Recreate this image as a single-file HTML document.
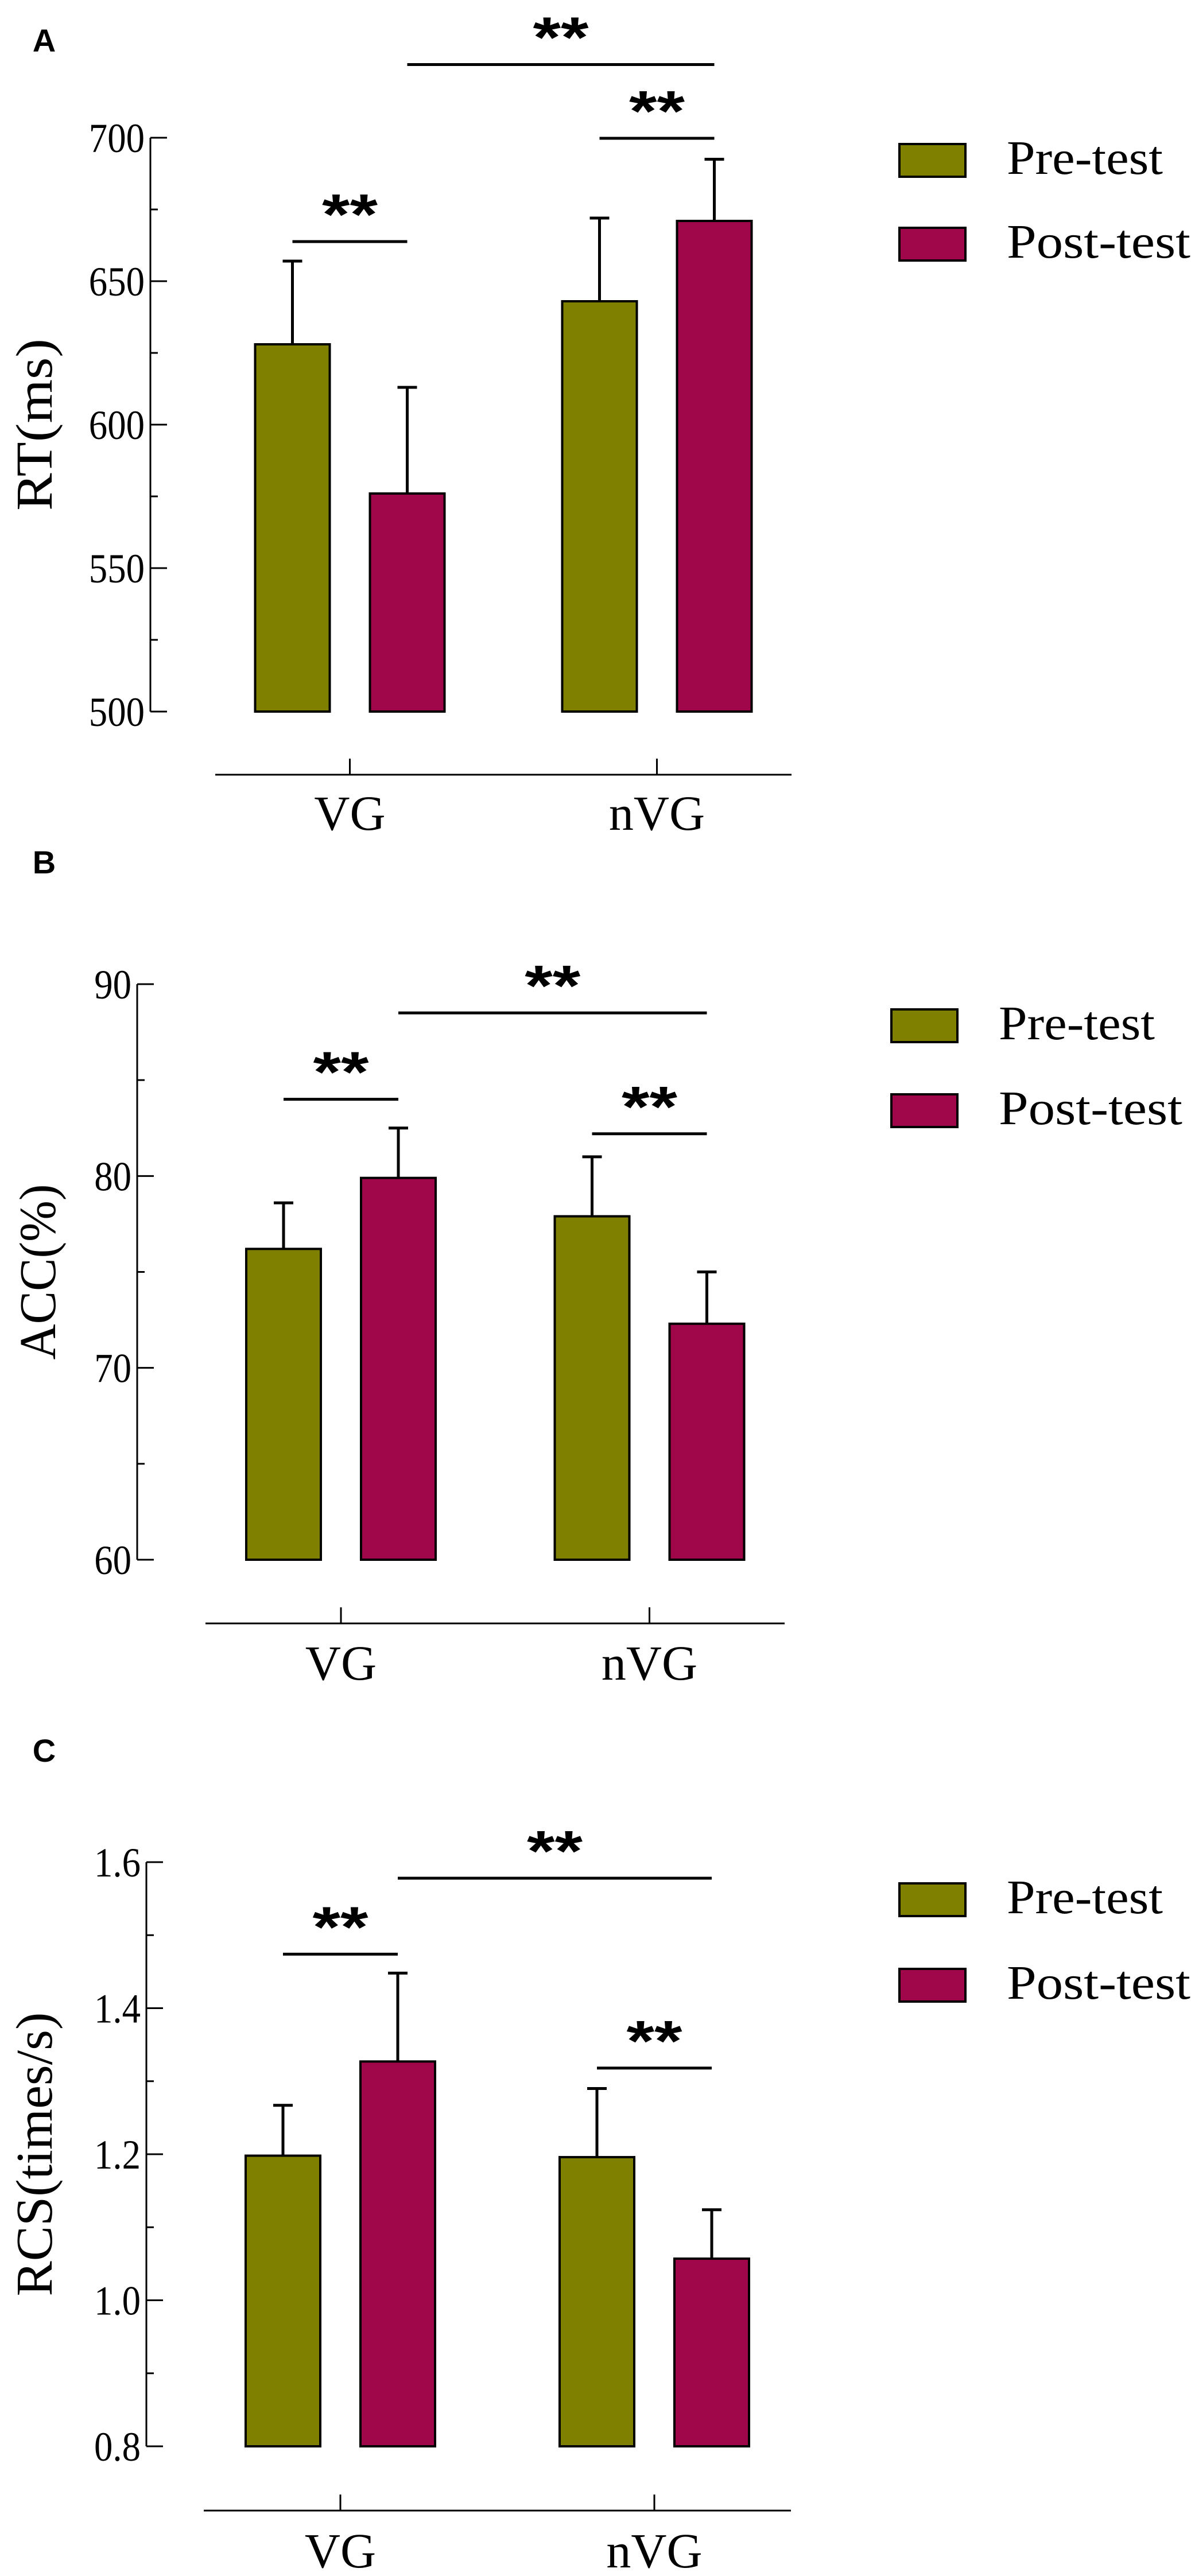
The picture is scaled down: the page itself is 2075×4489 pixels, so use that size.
<!DOCTYPE html>
<html><head><meta charset="utf-8"><style>
html,body{margin:0;padding:0;background:#fff;}
svg{display:block;}
text{font-family:"Liberation Serif",serif;fill:#000;}
.sans{font-family:"Liberation Sans",sans-serif;font-weight:bold;}
</style></head><body>
<svg id="fig" width="2075" height="4489" viewBox="0 0 2075 4489" xmlns="http://www.w3.org/2000/svg"></svg>
<script>
// ---- data ----
const categories = ["VG", "nVG"];
const seriesNames = ["Pre-test", "Post-test"];
const seriesColors = ["#808000", "#A0064A"];

const rtPre = [628, 643];
const rtPost = [576, 671];
const rtPreErr = [29, 29];
const rtPostErr = [37, 21.5];
const rtTicks = [500, 550, 600, 650, 700];
const rtSig = [663.8, 699.8, 725.5];

const accPre = [76.2, 77.9];
const accPost = [79.9, 72.3];
const accPreErr = [2.4, 3.1];
const accPostErr = [2.6, 2.7];
const accTicks = [60, 70, 80, 90];
const accSig = [84.0, 82.2, 88.5];

const rcsPre = [1.198, 1.196];
const rcsPost = [1.327, 1.057];
const rcsPreErr = [0.069, 0.094];
const rcsPostErr = [0.121, 0.067];
const rcsTicks = [0.8, 1.0, 1.2, 1.4, 1.6];
const rcsSig = [1.474, 1.318, 1.578];

const NS = "http://www.w3.org/2000/svg";
const svg = document.getElementById("fig");
function mk(tag, attrs, parent){ const e=document.createElementNS(NS,tag); for(const k in attrs) e.setAttribute(k,attrs[k]); (parent||svg).appendChild(e); return e; }

const panels = [
 {label:"A", labelY:90, title:"RT(ms)", titleX:60, titleLen:300, axisX:262, yTop:240, yBot:1240, min:500, max:700, c0:609.5, c1:1144.5,
  pre:rtPre, post:rtPost, preErr:rtPreErr, postErr:rtPostErr, ticks:rtTicks, fmt:v=>String(v), sig:rtSig,
  xAxisY:1350, xAxisL:375, xAxisR:1379, catY:1446, legX:1567, legY:[251,397]},
 {label:"B", labelY:1522, title:"ACC(%)", titleX:66, titleLen:306, axisX:239, yTop:1715, yBot:2718, min:60, max:90, c0:594, c1:1131.5,
  pre:accPre, post:accPost, preErr:accPreErr, postErr:accPostErr, ticks:accTicks, fmt:v=>String(v), sig:accSig,
  xAxisY:2829, xAxisL:358, xAxisR:1367, catY:2927, legX:1553, legY:[1759,1907]},
 {label:"C", labelY:3070, title:"RCS(times/s)", titleX:60, titleLen:495, axisX:255, yTop:3245, yBot:4263, min:0.8, max:1.6, c0:593, c1:1140,
  pre:rcsPre, post:rcsPost, preErr:rcsPreErr, postErr:rcsPostErr, ticks:rcsTicks, fmt:v=>v.toFixed(1), sig:rcsSig,
  xAxisY:4375, xAxisL:355, xAxisR:1378, catY:4474, legX:1567, legY:[3282,3431]}
];

panels.forEach((p, pi) => {
  const g = mk("g", {});
  
  
  const y = v => p.yBot - (v - p.min) / (p.max - p.min) * (p.yBot - p.yTop);
  const gc = i => i === 0 ? p.c0 : p.c1;
  const bx = (i, s) => gc(i) + (s === 0 ? -100 : 100);

  const lab = mk("text", {x:77, y:p.labelY, "font-size":56, "text-anchor":"middle", class:"sans"}, g);
  lab.textContent = p.label;
  
  

  // y axis
  const ax = mk("line", {x1:p.axisX, y1:p.yTop, x2:p.axisX, y2:p.yBot, stroke:"#000", "stroke-width":3}, g);
  
  
  p.ticks.forEach((t, k) => {
    const ty = y(t);
    const tk = mk("line", {x1:p.axisX, y1:ty, x2:p.axisX + 29, y2:ty, stroke:"#000", "stroke-width":3}, g);
    
    
    const tl = mk("text", {x:p.axisX - 10, y:ty + 25, "font-size":72, "text-anchor":"end", transform:`translate(${(p.axisX-10)*0.1},0) scale(0.9,1)`}, g);
    tl.textContent = p.fmt(t);
    
    
    if (k < p.ticks.length - 1) {
      const my = y((t + p.ticks[k+1]) / 2);
      const mt = mk("line", {x1:p.axisX, y1:my, x2:p.axisX + 13, y2:my, stroke:"#000", "stroke-width":3}, g);
      
      
    }
  });
  const yt = mk("text", {x:0, y:0, "font-size":90, "text-anchor":"middle", textLength:p.titleLen, lengthAdjust:"spacingAndGlyphs",
    transform:`translate(${p.titleX + 30},${(p.yTop + p.yBot)/2}) rotate(-90)`}, g);
  yt.textContent = p.title;
  
  

  // bars
  [p.pre, p.post].forEach((vals, s) => {
    const errs = s === 0 ? p.preErr : p.postErr;
    vals.forEach((v, i) => {
      const cx = bx(i, s);
      const top = y(v), errTop = y(v + errs[i]);
      const wl = mk("line", {x1:cx, y1:top, x2:cx, y2:errTop, stroke:"#000", "stroke-width":5}, g);
      
      
      const wc = mk("line", {x1:cx - 17, y1:errTop, x2:cx + 17, y2:errTop, stroke:"#000", "stroke-width":5}, g);
      
      
      const r = mk("rect", {x:cx - 65, y:top, width:130, height:y(p.min) - top, fill:seriesColors[s], stroke:"#000", "stroke-width":4}, g);
      
      
    });
  });

  // significance brackets
  const brackets = [[bx(0,0), bx(0,1)], [bx(1,0), bx(1,1)], [bx(0,1), bx(1,1)]];
  brackets.forEach((b, k) => {
    const ly = y(p.sig[k]);
    const sl = mk("line", {x1:b[0], y1:ly, x2:b[1], y2:ly, stroke:"#000", "stroke-width":5}, g);
    
    
    const st = mk("text", {x:(b[0] + b[1]) / 2, y:ly - 70 + 57, "font-size":100, "text-anchor":"middle", textLength:97, lengthAdjust:"spacingAndGlyphs", class:"sans"}, g);
    st.textContent = "**";
    
    
  });

  // x axis
  const xa = mk("line", {x1:p.xAxisL, y1:p.xAxisY, x2:p.xAxisR, y2:p.xAxisY, stroke:"#000", "stroke-width":3}, g);
  
  
  categories.forEach((c, i) => {
    const xt = mk("line", {x1:gc(i), y1:p.xAxisY, x2:gc(i), y2:p.xAxisY - 28, stroke:"#000", "stroke-width":3}, g);
    
    
    const xl = mk("text", {x:gc(i), y:p.catY, "font-size":86, "text-anchor":"middle"}, g);
    xl.textContent = c;
    
    
  });

  // legend
  seriesNames.forEach((n, s) => {
    const sw = mk("rect", {x:p.legX, y:p.legY[s], width:115, height:57, fill:seriesColors[s], stroke:"#000", "stroke-width":4}, g);
    
    
    const lt = mk("text", {x:p.legX + 187, y:p.legY[s] + 52, "font-size":84, textLength:(s === 0 ? 272 : 320), lengthAdjust:"spacingAndGlyphs"}, g);
    lt.textContent = n;
    
    
  });
});
</script>
</body></html>
